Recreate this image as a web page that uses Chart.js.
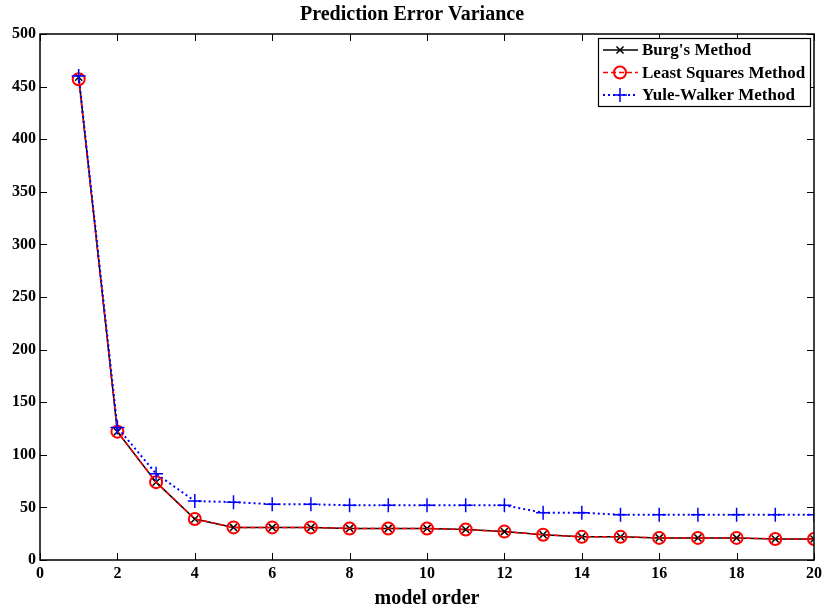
<!DOCTYPE html>
<html>
<head>
<meta charset="utf-8">
<script src="https://cdn.jsdelivr.net/npm/chart.js@4.4.1/dist/chart.umd.min.js"></script>
<style>
  html, body { margin: 0; padding: 0; background: #fff; }
  #wrap { width: 828px; height: 609px; }
</style>
</head>
<body>
<div id="wrap"><canvas id="chart"></canvas></div>
<script>
// model orders 1..20
const orders = [1, 2, 3, 4, 5, 6, 7, 8, 9, 10, 11, 12, 13, 14, 15, 16, 17, 18, 19, 20];
const burg = [459, 122, 74, 39, 31, 31, 31, 30, 30, 30, 29, 27, 24, 22, 22, 21, 21, 21, 20, 20];
const leastSquares = [457, 122, 74, 39, 31, 31, 31, 30, 30, 30, 29, 27, 24, 22, 22, 21, 21, 21, 20, 20];
const yuleWalker = [460, 126, 82, 56, 55, 53, 53, 52, 52, 52, 52, 52, 45, 45, 43, 43, 43, 43, 43, 43];
const seriesNames = ["Burg's Method", "Least Squares Method", "Yule-Walker Method"];
const xTicks = [0, 2, 4, 6, 8, 10, 12, 14, 16, 18, 20];
const yTicks = [0, 50, 100, 150, 200, 250, 300, 350, 400, 450, 500];

const serif = "'Liberation Serif', 'Times New Roman', serif";

function pts(vals) {
  return vals.map((v, i) => ({ x: orders[i], y: v }));
}

// box, inward ticks and in-plot legend, matlab style
const matlabAxes = {
  id: 'matlabAxes',
  afterDatasetsDraw(chart) {
    const ctx = chart.ctx;
    const a = chart.chartArea;
    const xs = chart.scales.x, ys = chart.scales.y;
    ctx.save();
    ctx.strokeStyle = '#000';
    ctx.lineWidth = 1;
    ctx.beginPath();
    xTicks.forEach(t => {
      const px = Math.round(xs.getPixelForValue(t)) + 0.5;
      ctx.moveTo(px, a.bottom); ctx.lineTo(px, a.bottom - 7);
      ctx.moveTo(px, a.top); ctx.lineTo(px, a.top + 7);
    });
    yTicks.forEach(t => {
      const py = Math.round(ys.getPixelForValue(t)) + 0.5;
      ctx.moveTo(a.left, py); ctx.lineTo(a.left + 7, py);
      ctx.moveTo(a.right, py); ctx.lineTo(a.right - 7, py);
    });
    ctx.stroke();
    ctx.lineWidth = 1.5;
    ctx.strokeRect(a.left, a.top, a.right - a.left, a.bottom - a.top);

    // legend
    const bx = a.right - 216, by = a.top + 4, bw = 212, bh = 68;
    ctx.fillStyle = '#fff';
    ctx.fillRect(bx, by, bw, bh);
    ctx.lineWidth = 1.2;
    ctx.strokeRect(bx + 0.5, by + 0.5, bw, bh);
    ctx.font = 'bold 17px ' + serif;
    ctx.textBaseline = 'middle';
    chart.data.datasets.forEach((ds, i) => {
      const y = by + 12 + i * 22.5;
      ctx.save();
      ctx.strokeStyle = ds.borderColor;
      ctx.lineWidth = ds.borderWidth;
      ctx.setLineDash(ds.borderDash || []);
      ctx.beginPath();
      ctx.moveTo(bx + 5, y); ctx.lineTo(bx + 40, y);
      ctx.stroke();
      ctx.setLineDash([]);
      ctx.strokeStyle = ds.pointBorderColor;
      ctx.fillStyle = 'rgba(0,0,0,0)';
      ctx.lineWidth = ds.pointBorderWidth;
      Chart.helpers.drawPoint(ctx, {
        pointStyle: ds.pointStyle, radius: ds.pointRadius, rotation: 0,
        borderWidth: ds.pointBorderWidth
      }, bx + 22, y);
      ctx.restore();
      ctx.fillStyle = '#000';
      ctx.fillText(ds.label, bx + 44, y + 1);
    });
    ctx.restore();
  }
};

new Chart(document.getElementById('chart'), {
  type: 'line',
  data: {
    datasets: [
      {
        label: seriesNames[0], data: pts(burg), order: 3,
        borderColor: '#000', borderWidth: 1.5,
        pointStyle: 'crossRot', pointRadius: 5, pointBorderColor: '#000', pointBorderWidth: 1.5,
        pointBackgroundColor: 'transparent', fill: false, tension: 0
      },
      {
        label: seriesNames[1], data: pts(leastSquares), order: 2,
        borderColor: '#ff0000', borderWidth: 1.5, borderDash: [5, 3],
        pointStyle: 'circle', pointRadius: 6, pointBorderColor: '#ff0000', pointBorderWidth: 2,
        pointBackgroundColor: 'transparent', fill: false, tension: 0
      },
      {
        label: seriesNames[2], data: pts(yuleWalker), order: 1,
        borderColor: '#0000ff', borderWidth: 2, borderDash: [2, 3],
        pointStyle: 'cross', pointRadius: 7, pointBorderColor: '#0000ff', pointBorderWidth: 1.5,
        pointBackgroundColor: 'transparent', fill: false, tension: 0
      }
    ]
  },
  options: {
    responsive: true,
    maintainAspectRatio: false,
    animation: false,
    layout: { padding: { left: 8, right: 12, top: 0, bottom: 0 } },
    plugins: {
      legend: { display: false },
      tooltip: { enabled: false },
      title: {
        display: true,
        text: 'Prediction Error Variance',
        color: '#000',
        font: { family: serif, size: 20, weight: 'bold' },
        padding: { top: 3, bottom: 7 }
      }
    },
    scales: {
      x: {
        type: 'linear', min: 0, max: 20,
        afterBuildTicks: s => { s.ticks = xTicks.map(v => ({ value: v })); },
        grid: { display: false, drawTicks: false },
        border: { display: false },
        ticks: { color: '#000', padding: 6, maxRotation: 0, font: { family: serif, size: 16, weight: 'bold', lineHeight: 1 } },
        title: {
          display: true, text: 'model order', color: '#000',
          font: { family: serif, size: 20, weight: 'bold', lineHeight: 1.05 }, padding: { top: 0, bottom: 0 }
        }
      },
      y: {
        type: 'linear', min: 0, max: 500,
        afterBuildTicks: s => { s.ticks = yTicks.map(v => ({ value: v })); },
        grid: { display: false, drawTicks: false },
        border: { display: false },
        ticks: { color: '#000', padding: 4, font: { family: serif, size: 16, weight: 'bold' } }
      }
    }
  },
  plugins: [matlabAxes]
});
</script>
</body>
</html>
